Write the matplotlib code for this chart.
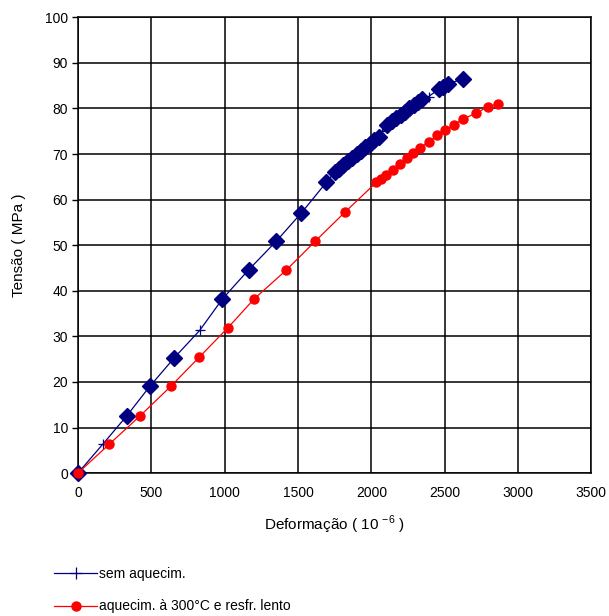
import matplotlib
matplotlib.use('Agg')
import matplotlib.pyplot as plt
from matplotlib.lines import Line2D

plt.rcParams['font.family'] = ['Liberation Sans', 'DejaVu Sans']
plt.rcParams['mathtext.fontset'] = 'custom'
plt.rcParams['mathtext.rm'] = 'Liberation Sans'

# sem aquecim. - line points (+ markers)
blue_x = [0, 171, 334, 489, 657, 830, 985, 1164, 1353, 1524, 1694,
          1750, 1780, 1810, 1840, 1870, 1900, 1930, 1960, 1990, 2020, 2050,
          2075, 2110, 2140, 2170, 2200, 2230, 2260, 2290, 2320, 2345,
          2390, 2460, 2490, 2525, 2626]
blue_y = [0, 6.4, 12.6, 19.0, 25.3, 31.3, 38.2, 44.6, 50.9, 57.1, 63.8,
          66.0, 66.8, 67.6, 68.4, 69.2, 70.0, 70.7, 71.5, 72.2, 73.0, 73.8,
          75.0, 76.4, 77.2, 77.9, 78.6, 79.3, 80.0, 80.7, 81.4, 82.0,
          82.6, 84.2, 84.8, 85.4, 86.5]

# diamonds drawn over the same curve
diam_x = [0, 334, 489, 657, 985, 1164, 1353, 1524, 1694,
          1750, 1780, 1810, 1840, 1870, 1900, 1930, 1960, 1990, 2020, 2050,
          2110, 2140, 2170, 2200, 2230, 2260, 2290, 2320, 2345,
          2460, 2490, 2525, 2626]
diam_y = [0, 12.6, 19.0, 25.3, 38.2, 44.6, 50.9, 57.1, 63.8,
          66.0, 66.8, 67.6, 68.4, 69.2, 70.0, 70.7, 71.5, 72.2, 73.0, 73.8,
          76.4, 77.2, 77.9, 78.6, 79.3, 80.0, 80.7, 81.4, 82.0,
          84.2, 84.8, 85.4, 86.5]

# aquecim. a 300C e resfr. lento
red_x = [0, 212, 425, 632, 826, 1023, 1201, 1419, 1619, 1822,
         2035, 2065, 2099, 2145, 2194, 2240, 2285, 2331, 2392, 2449,
         2503, 2563, 2626, 2711, 2797, 2865]
red_y = [0, 6.3, 12.6, 19.0, 25.4, 31.9, 38.2, 44.5, 50.9, 57.3,
         63.8, 64.5, 65.4, 66.4, 67.7, 69.1, 70.3, 71.4, 72.6, 74.1,
         75.2, 76.4, 77.7, 78.9, 80.4, 81.0]

x_ticks = [0, 500, 1000, 1500, 2000, 2500, 3000, 3500]
y_ticks = [0, 10, 20, 30, 40, 50, 60, 70, 80, 90, 100]

navy = '#000080'
red = '#FF0000'

fig = plt.figure(figsize=(6.09, 6.16), dpi=100)
ax = fig.add_axes([0.128, 0.232, 0.843, 0.740])

ax.plot(blue_x, blue_y, color=navy, lw=0.9, marker='+', ms=7, mew=0.9,
        zorder=3, clip_on=False)
ax.plot(diam_x, diam_y, ls='none', marker='D', ms=8.5, color=navy,
        zorder=4, clip_on=False)
ax.plot(red_x, red_y, color=red, lw=0.9, marker='o', ms=6.5, zorder=5,
        clip_on=False)

ax.set_xlim(0, 3500)
ax.set_ylim(0, 100)
ax.set_xticks(x_ticks)
ax.set_yticks(y_ticks)
ax.grid(True, color='black', lw=1.1)
ax.set_axisbelow(True)
for s in ax.spines.values():
    s.set_color('black')
    s.set_linewidth(1.1)
ax.tick_params(axis='y', direction='out', length=4, width=1, labelsize=10, pad=3)
ax.tick_params(axis='x', direction='out', length=0, labelsize=10, pad=9)

ax.set_xlabel(r'Deformação ( 10 $^{\mathregular{-6}}$ )', fontsize=11, labelpad=10)
ax.set_ylabel('Tensão ( MPa )', fontsize=11, labelpad=14)

handles = [Line2D([], [], color=navy, lw=0.9, marker='+', ms=9, mew=0.9),
           Line2D([], [], color=red, lw=0.9, marker='o', ms=6.5)]
fig.legend(handles, ['sem aquecim.', 'aquecim. à 300°C e resfr. lento'],
           loc='upper left', bbox_to_anchor=(0.08, 0.089), frameon=False,
           fontsize=10, handlelength=3.1, handletextpad=0.12, labelspacing=1.35,
           numpoints=1, borderaxespad=0)

fig.savefig('out.png', dpi=100)
